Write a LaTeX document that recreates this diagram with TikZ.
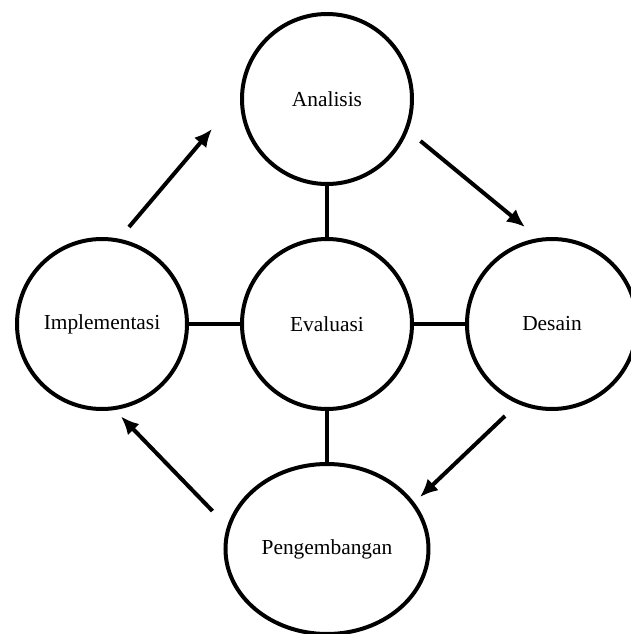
\documentclass[tikz,border=0pt]{standalone}
\usepackage{fontspec}
\setmainfont{Liberation Serif}
\usetikzlibrary{positioning,shapes.geometric,arrows.meta}

\begin{document}
\begin{tikzpicture}[node distance={112.5pt}, line width=2pt, >={Latex[length=9pt,width=8pt]},
  main/.style = {draw, circle, minimum size=85pt, inner sep=0pt, font=\fontsize{10.7}{13}\selectfont},
  oval/.style = {main, ellipse, minimum width=101.5pt, minimum height=85pt}]
\useasboundingbox (-163.5pt,-155pt) rectangle (152pt,162pt);
\node[main] (ev) {Evaluasi};
\node[main] (an) [above of=ev] {Analisis};
\node[main] (de) [right of=ev] {Desain};
\node[oval] (pe) [below of=ev] {Pengembangan};
\node[main] (im) [left of=ev] {Implementasi};
\draw (an) -- (ev);
\draw (ev) -- (de);
\draw (ev) -- (pe);
\draw (im) -- (ev);
% free ends of the cycle arrows
\coordinate (a1) at (-99pt,48.5pt);
\coordinate (a2) at (-57.5pt,97.5pt);
\coordinate (b1) at (46.75pt,91.5pt);
\coordinate (b2) at (99pt,48.5pt);
\coordinate (c1) at (89pt,-46pt);
\coordinate (c2) at (46.5pt,-86.5pt);
\coordinate (d1) at (-57.25pt,-93.5pt);
\coordinate (d2) at (-103pt,-46.25pt);
\draw[->] (a1) -- (a2);
\draw[->] (b1) -- (b2);
\draw[->] (c1) -- (c2);
\draw[->] (d1) -- (d2);
\end{tikzpicture}
\end{document}
